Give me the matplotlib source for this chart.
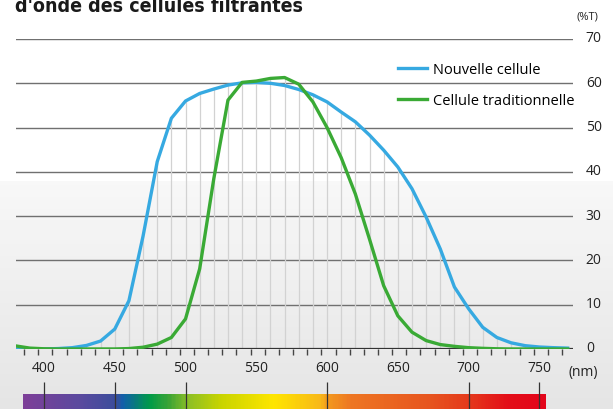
import numpy as np
import matplotlib.pyplot as plt
from matplotlib.colors import LinearSegmentedColormap
from matplotlib.transforms import ScaledTranslation

# longueurs d'onde (nm) et transmittance (%T)
wavelengths = [380, 390, 400, 410, 420, 430, 440, 450, 460, 470, 480, 490, 500, 510, 520,
               530, 540, 550, 560, 570, 580, 590, 600, 610, 620, 630, 640, 650, 660, 670,
               680, 690, 700, 710, 720, 730, 740, 750, 760, 770]
nouvelle = [0, 0, 0, 0.1, 0.3, 0.8, 1.8, 4.5, 10.9, 25.5, 42.3, 52.1, 56.0, 57.7, 58.7,
            59.6, 60.1, 60.2, 60.0, 59.5, 58.6, 57.4, 55.8, 53.5, 51.3, 48.3, 44.9, 41.1, 36.2, 29.8,
            22.6, 14.0, 9.1, 4.9, 2.6, 1.4, 0.75, 0.45, 0.3, 0.2]
traditionnelle = [0.7, 0.2, 0.05, 0, 0, 0, 0, 0, 0.1, 0.4, 1.1, 2.6, 6.8, 18.1, 38.5,
                  56.2, 60.2, 60.5, 61.1, 61.3, 59.8, 55.8, 50.0, 43.2, 35.0, 24.8, 14.3, 7.5, 3.8, 1.9,
                  1.0, 0.6, 0.3, 0.15, 0.05, 0, 0, 0, 0, 0]

x_labels = [400, 450, 500, 550, 600, 650, 700, 750]
y_labels = [0, 10, 20, 30, 40, 50, 60, 70]
spectre_marks = [400, 450, 500, 600, 700, 750]
spectre_nm = [385, 424, 450, 455, 474, 488, 501, 524, 562, 595, 600, 617, 673, 700, 728, 754]
spectre_col = ['#7d3f98', '#5b4a9f', '#3b4d9c', '#1160aa', '#009b48', '#3fa535', '#8cbf26',
               '#c8d400', '#ffe600', '#f8b819', '#f39a1e', '#ee7623', '#e7551f', '#e53a1c',
               '#e30e18', '#e3051b']

W, H = 613, 410
fig = plt.figure(figsize=(W / 100, H / 100), dpi=100)

# fond degrade (blanc en haut, gris clair en bas)
bg = fig.add_axes([0, 0, 1, 1], zorder=-10)
rows = np.linspace(0, 1, 410)
edge = 182 / 410
shade = np.where(rows < edge, 1.0, 0.97 - (rows - edge) / (1 - edge) * 0.075)
bg.imshow(np.repeat(shade[:, None], 2, axis=1), cmap='gray', vmin=0, vmax=1,
          aspect='auto', extent=(0, 1, 0, 1))
bg.axis('off')

left, right = 15.7 / W, 573.3 / W
bottom, top = (H - 350) / H, (H - 40) / H
ax = fig.add_axes([left, bottom, right - left, top - bottom])
ax.patch.set_alpha(0)

blue = '#36a9e1'
green = '#3aaa35'

envelope = np.maximum(nouvelle, traditionnelle)
ax.vlines(wavelengths, 0, envelope, color='#d2d2d2', lw=0.9, zorder=1)
for v in y_labels[1:]:
    ax.axhline(v, color='#707070', lw=1.0, zorder=0.5)
ax.axhline(0, color='#333333', lw=1.6, zorder=2)

ax.plot(wavelengths, nouvelle, color=blue, lw=2.4, label='Nouvelle cellule', zorder=3)
ax.plot(wavelengths, traditionnelle, color=green, lw=2.4, label='Cellule traditionnelle', zorder=4)

ax.set_xlim(380, 774)
ax.set_ylim(0, 70)
for s in ax.spines.values():
    s.set_visible(False)

ax.set_xticks(x_labels)
ax.set_xticklabels([str(v) for v in x_labels], fontsize=10, family='Open Sans', color='#222222')
ax.set_xticks(np.arange(386, 774, 10), minor=True)
ax.tick_params(axis='x', which='major', length=0, pad=8)
ax.tick_params(axis='x', which='minor', length=4, width=1, color='#444444', direction='out')

ax.yaxis.tick_right()
ax.set_yticks(y_labels)
ax.set_yticklabels([str(v) for v in y_labels], fontsize=10, family='Open Sans', color='#222222')
ax.tick_params(axis='y', length=0, pad=9)
lift = ScaledTranslation(0, 3 / 100, fig.dpi_scale_trans)
for lbl in ax.get_yticklabels():
    lbl.set_transform(lbl.get_transform() + lift)

fig.text(598 / W, 1 - 17 / H, '(%T)', fontsize=8, family='Open Sans', color='#222222',
         ha='right', va='center')
fig.text(598 / W, 1 - 373 / H, '(nm)', fontsize=10, family='Open Sans', color='#222222',
         ha='right', va='center')

# titre (deuxieme ligne, coupee en haut comme dans l'original)
fig.text(15 / W, 1 - 12 / H, "d'onde des cellules filtrantes", fontsize=14, fontweight='bold',
         family='DejaVu Sans', fontstretch='condensed', color='#1a1a1a', ha='left', va='baseline')

leg = ax.legend(loc='upper left', bbox_to_anchor=(392 / W, 1 - 57 / H), bbox_transform=fig.transFigure,
                frameon=False, prop={'family': 'Open Sans', 'size': 10.5}, handlelength=2.0,
                handletextpad=0.4, labelspacing=1.1, borderaxespad=0)
for line in leg.get_lines():
    line.set_linewidth(2.4)

# spectre visible
spec = fig.add_axes([left, 0, right - left, 27 / H])
pos = [(n - spectre_nm[0]) / (spectre_nm[-1] - spectre_nm[0]) for n in spectre_nm]
cmap = LinearSegmentedColormap.from_list('spectre', list(zip(pos, spectre_col)))
spec.imshow(np.linspace(0, 1, 400)[None, :], cmap=cmap, aspect='auto',
            extent=(spectre_nm[0], spectre_nm[-1], 0, 15))
spec.vlines(spectre_marks, 0, 27, color='#333333', lw=0.9)
spec.set_xlim(380, 774)
spec.set_ylim(0, 27)
spec.axis('off')

fig.savefig('out.png', dpi=100)
